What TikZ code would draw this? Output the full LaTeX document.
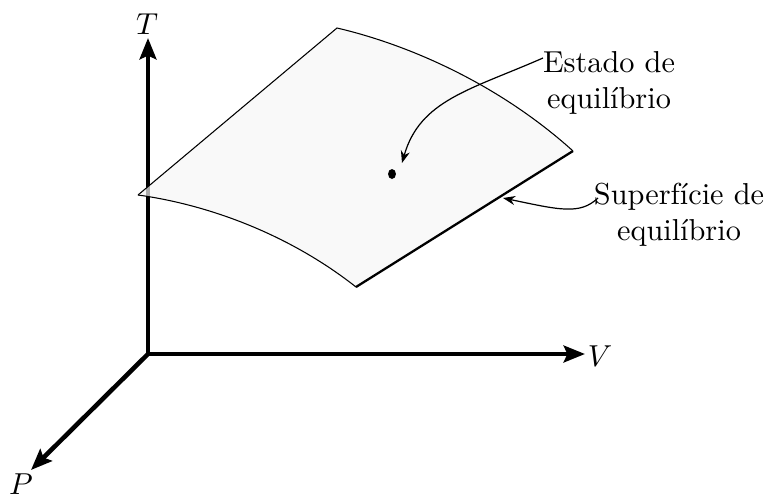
\documentclass[tikz,border=0pt]{standalone}
\usetikzlibrary{arrows.meta,shapes.geometric}
\begin{document}
\begin{tikzpicture}[x=0.33pt,y=-0.33pt,
  axis/.style={line width=1.5pt,-{Stealth[length=7pt,width=5.5pt,inset=1.2pt]}},
  pointer/.style={line width=0.4pt,-{Stealth[length=4pt,width=3pt]}},
  edge/.style={line width=0.35pt},
  lbl/.style={inner sep=0pt,align=center}]
\useasboundingbox (0,0) rectangle (773,496);
% axes
\coordinate (O) at (148,354);
\coordinate (Te) at (148,38);
\coordinate (Ve) at (585,354);
\coordinate (Pe) at (31,470);
\draw[axis] (O) -- (Te);
\draw[axis] (O) -- (Ve);
\draw[axis] (O) -- (Pe);
\node[lbl] (Tl) at (147,24) {$T$};
\node[lbl] (Vl) at (600,356) {$V$};
\node[lbl] (Pl) at (21,484) {$P$};
% surface
\coordinate (L) at (138,195);
\coordinate (Tp) at (337,28);
\coordinate (R) at (573,151);
\coordinate (B) at (356,287);
\fill[gray!7,fill opacity=0.7] (L) -- (Tp) .. controls (410,45) and (500,85) .. (R) -- (B) .. controls (290,235) and (210,205) .. (L) -- cycle;
\draw[edge] (L) -- (Tp) .. controls (410,45) and (500,85) .. (R);
\draw[line width=0.75pt] (R) -- (B);
\draw[edge] (B) .. controls (290,235) and (210,205) .. (L);
% point
\node[ellipse,fill=black,inner sep=0pt,minimum width=2.6pt,minimum height=3.3pt] (dot) at (392,174) {};
\node[lbl] (est) at (609,83) {Estado de\\equilíbrio};
\coordinate (estA) at (543,58);
\coordinate (estB) at (402,163);
\draw[pointer] (estA) .. controls (470,90) and (420,100) .. (estB);
\node[lbl] (sup) at (679,215) {Superfície de\\equilíbrio};
\coordinate (supA) at (598,198);
\coordinate (supB) at (503,198);
\draw[pointer] (supA) .. controls (580,215) and (560,210) .. (supB);
\end{tikzpicture}
\end{document}
